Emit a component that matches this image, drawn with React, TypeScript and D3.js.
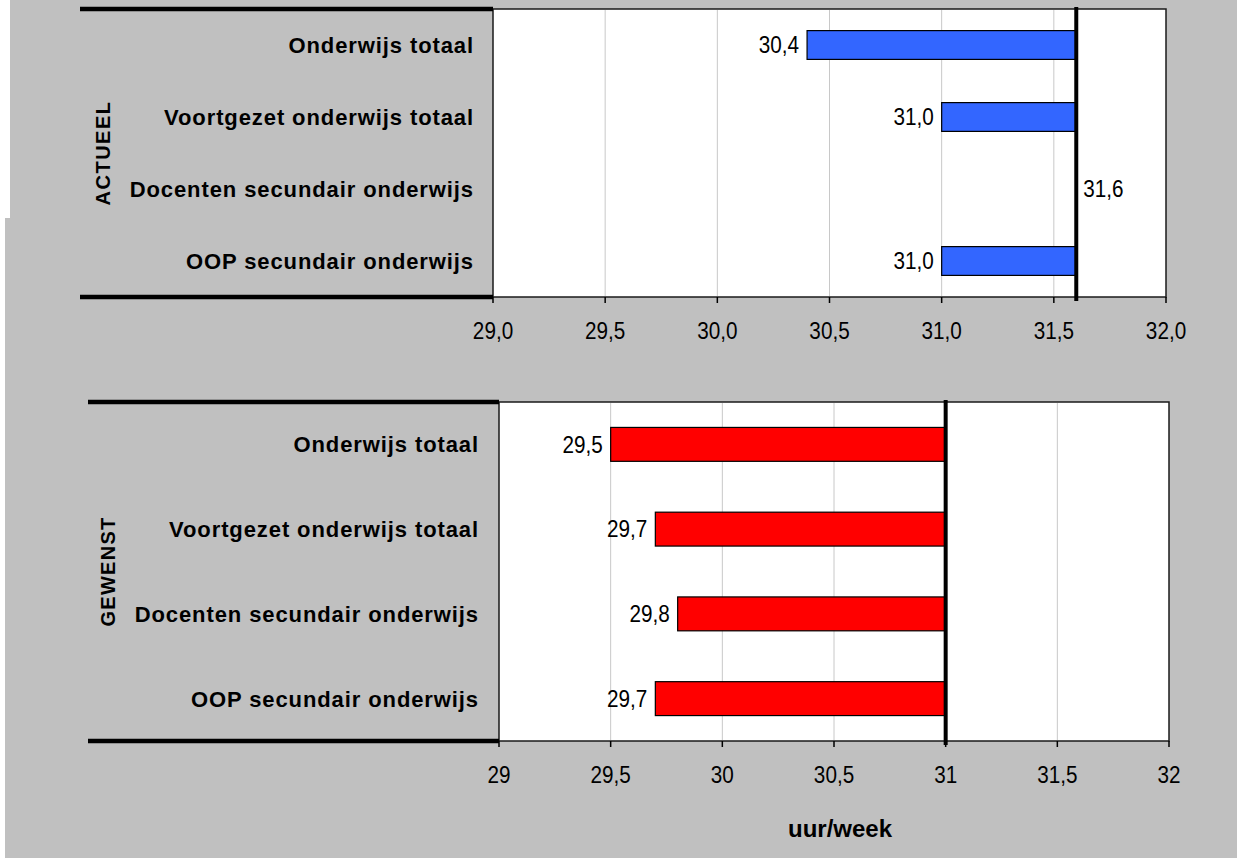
import React from "react";
import * as d3 from "d3";

// Working hours per week: current (actueel) and desired (gewenst)
const categories = [
  "Onderwijs totaal",
  "Voortgezet onderwijs totaal",
  "Docenten secundair onderwijs",
  "OOP secundair onderwijs",
];
const actueelValues = [30.4, 31.0, 31.6, 31.0];
const gewenstValues = [29.5, 29.7, 29.8, 29.7];
const actueelCross = 31.6;
const gewenstCross = 31.0;
const tickValues = [29, 29.5, 30, 30.5, 31, 31.5, 32];
const actueelTickLabels = ["29,0", "29,5", "30,0", "30,5", "31,0", "31,5", "32,0"];
const gewenstTickLabels = ["29", "29,5", "30", "30,5", "31", "31,5", "32"];

const W = 1242;
const H = 858;
const BG = "#c0c0c0";
const FONT = "'Liberation Sans', Arial, sans-serif";
const NUM_SIZE = 23;
const NUM_SQUEEZE = 0.9;

const fmt = (v: number) => v.toFixed(1).replace(".", ",");

// Slightly condensed numeric text
function Num({ x, y, anchor, children }: { x: number; y: number; anchor: string; children: React.ReactNode }) {
  return (
    <text
      transform={`translate(${x},${y}) scale(${NUM_SQUEEZE},1)`}
      dy="0.36em"
      textAnchor={anchor}
      fontFamily={FONT}
      fontSize={NUM_SIZE}
      fill="#000"
    >
      {children}
    </text>
  );
}

type PanelProps = {
  values: number[];
  cross: number;
  color: string;
  tickLabels: string[];
  title: string;
  titleX: number;
  titleSpacing: number;
  plot: { left: number; right: number; top: number; bottom: number };
  lineStart: number;
  labelX: number;
};

function Panel({ values, cross, color, tickLabels, title, titleX, titleSpacing, plot, lineStart, labelX }: PanelProps) {
  const x = d3.scaleLinear().domain([29, 32]).range([plot.left, plot.right]);
  const y = d3
    .scaleBand<string>()
    .domain(categories)
    .range([plot.top, plot.bottom])
    .paddingInner(0.6)
    .paddingOuter(0.3);
  const midY = (plot.top + plot.bottom) / 2;

  return (
    <g>
      {/* plot area */}
      <rect
        x={plot.left}
        y={plot.top}
        width={plot.right - plot.left}
        height={plot.bottom - plot.top}
        fill="#ffffff"
        stroke="#1a1a1a"
        strokeWidth={1.5}
      />
      {/* vertical gridlines */}
      {tickValues.slice(1, -1).map((t) => (
        <line
          key={"g" + t}
          x1={x(t)}
          x2={x(t)}
          y1={plot.top + 1}
          y2={plot.bottom - 1}
          stroke="#c8c8c8"
          strokeWidth={1}
        />
      ))}
      {/* bars, drawn from the value to the crossing line */}
      {values.map((v, i) => {
        const c = categories[i];
        const x0 = Math.min(x(v), x(cross));
        const x1 = Math.max(x(v), x(cross));
        return (
          <rect
            key={"b" + c}
            x={x0}
            y={y(c)!}
            width={x1 - x0}
            height={y.bandwidth()}
            fill={color}
            stroke="#000"
            strokeWidth={1.2}
          />
        );
      })}
      {/* crossing line (category axis) */}
      <line
        x1={x(cross)}
        x2={x(cross)}
        y1={plot.top - 2}
        y2={plot.bottom + 4}
        stroke="#000"
        strokeWidth={4}
      />
      {/* value labels */}
      {values.map((v, i) => {
        const c = categories[i];
        const cy = y(c)! + y.bandwidth() / 2;
        const right = v >= cross;
        return (
          <Num key={"v" + c} x={right ? x(v) + 7 : x(v) - 8} y={cy} anchor={right ? "start" : "end"}>
            {fmt(v)}
          </Num>
        );
      })}
      {/* value axis ticks and labels */}
      {tickValues.map((t, i) => (
        <g key={"t" + t}>
          <line x1={x(t)} x2={x(t)} y1={plot.bottom} y2={plot.bottom + 6} stroke="#000" strokeWidth={1.5} />
          <Num x={x(t)} y={plot.bottom + 34} anchor="middle">
            {tickLabels[i]}
          </Num>
        </g>
      ))}
      {/* thick group bracket lines */}
      <line x1={lineStart} x2={plot.left} y1={plot.top} y2={plot.top} stroke="#000" strokeWidth={4.5} />
      <line x1={lineStart} x2={plot.left} y1={plot.bottom} y2={plot.bottom} stroke="#000" strokeWidth={4.5} />
      {/* category labels */}
      {categories.map((c) => (
        <text
          key={"c" + c}
          x={labelX}
          y={y(c)! + y.bandwidth() / 2}
          dy="0.36em"
          textAnchor="end"
          fontFamily={FONT}
          fontWeight="bold"
          fontSize={22}
          letterSpacing={0.9}
          fill="#000"
        >
          {c}
        </text>
      ))}
      {/* group title */}
      <text
        transform={`translate(${titleX},${midY}) rotate(-90)`}
        textAnchor="middle"
        dy="0.36em"
        fontFamily={FONT}
        fontWeight="bold"
        fontSize={20}
        letterSpacing={titleSpacing}
        fill="#000"
      >
        {title}
      </text>
    </g>
  );
}

export default function App() {
  return (
    <svg
      width={W}
      height={H}
      style={{ position: "absolute", left: 0, top: 0, display: "block" }}
    >
      <rect x={0} y={0} width={W} height={H} fill={BG} />
      <rect x={0} y={0} width={10} height={218} fill="#ffffff" />
      <rect x={0} y={0} width={5} height={H} fill="#ffffff" />
      <rect x={1237} y={0} width={5} height={H} fill="#ffffff" />

      <Panel
        values={actueelValues}
        cross={actueelCross}
        color="#3366ff"
        tickLabels={actueelTickLabels}
        title="ACTUEEL"
        titleX={103}
        titleSpacing={1.5}
        plot={{ left: 493, right: 1166, top: 9, bottom: 297 }}
        lineStart={80}
        labelX={474}
      />
      <Panel
        values={gewenstValues}
        cross={gewenstCross}
        color="#ff0000"
        tickLabels={gewenstTickLabels}
        title="GEWENST"
        titleX={108}
        titleSpacing={1.3}
        plot={{ left: 499, right: 1169, top: 402, bottom: 741 }}
        lineStart={88}
        labelX={479}
      />
      <text
        x={840}
        y={828}
        dy="0.36em"
        textAnchor="middle"
        fontFamily={FONT}
        fontWeight="bold"
        fontSize={24}
        fill="#000"
      >
        uur/week
      </text>
    </svg>
  );
}
